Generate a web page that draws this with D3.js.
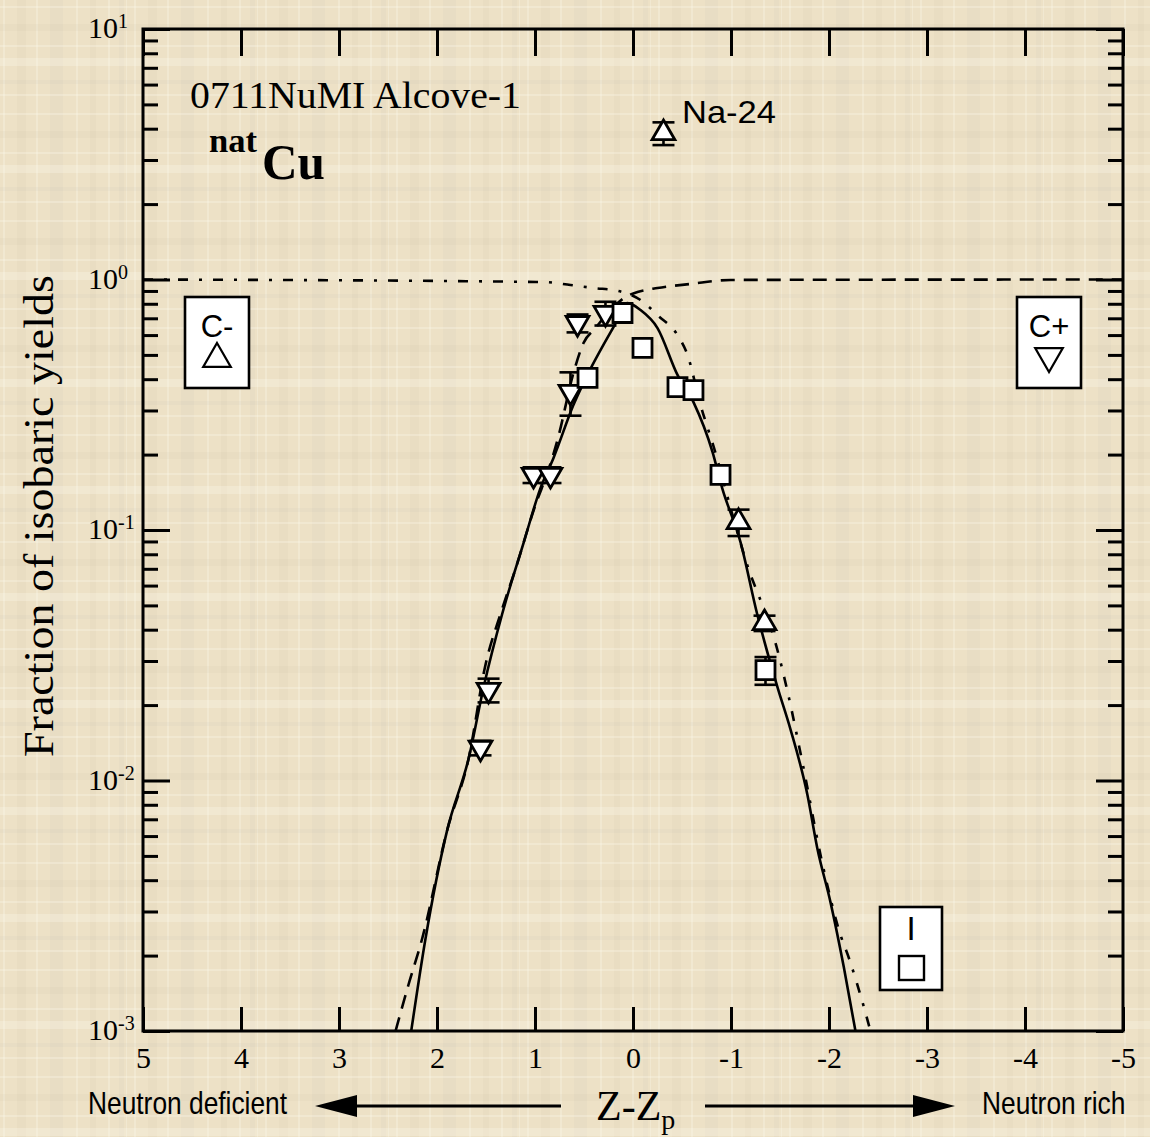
<!DOCTYPE html>
<html><head><meta charset="utf-8">
<script src="https://cdn.jsdelivr.net/npm/d3@7"></script>
<style>
html,body{margin:0;padding:0;background:#eee2c6;}
svg{display:block;}
</style></head><body>
<svg id="chart" width="1150" height="1137"></svg>
<script>
// ---------------- data ----------------
const zTicks = [5, 4, 3, 2, 1, 0, -1, -2, -3, -4, -5];
const decadeTicks = [1e-3, 1e-2, 1e-1, 1, 10];
const decadeExp = ["-3", "-2", "-1", "0", "1"];

// C+ (cumulative, inverted triangles)
const cPlusZ   = [0.566, 0.281, 0.638, 1.015, 0.842, 1.474, 1.556];
const cPlusY   = [0.67, 0.735, 0.356, 0.166, 0.166, 0.0230, 0.0135];
const cPlusErr = [0.055, 0.08, 0.07, 0.012, 0.012, 0.0025, 0.0009];

// I (independent, squares)
const indZ   = [0.107, -0.097, 0.464, -0.454, -0.617, -0.893, -1.352];
const indY   = [0.735, 0.533, 0.405, 0.372, 0.362, 0.166, 0.0276];
const indErr = [0, 0, 0, 0, 0, 0, 0.0035];

// C- (cumulative, triangles)
const cMinusZ   = [-0.311, -1.077, -1.342];
const cMinusY   = [3.84, 0.1076, 0.0425];
const cMinusErr = [0.4, 0.013, 0.003];

// solid curve (independent yield)
const solidZ = [2.263, 2.117, 1.896, 1.676, 1.522, 1.335, 1.114, 0.944, 0.811, 0.607, 0.413, 0.199, 0.056,
                -0.077, -0.250, -0.454, -0.617, -0.811, -0.910, -1.097, -1.267, -1.471, -1.607, -1.778, -1.880, -2.015, -2.151, -2.270];
const solidY = [0.001, 0.00234, 0.00634, 0.0123, 0.0238, 0.0462, 0.0895, 0.147, 0.194, 0.316, 0.456, 0.646, 0.805,
                0.755, 0.640, 0.416, 0.324, 0.205, 0.147, 0.0895, 0.0462, 0.0238, 0.0160, 0.00883, 0.00538, 0.00327, 0.00180, 0.001];

// dashed curve (cumulative from neutron-deficient side)
const dashZ = [2.423, 2.291, 2.151, 1.896, 1.676, 1.505, 1.352, 1.199, 0.995, 0.862, 0.770, 0.607, 0.505, 0.383, 0.230, 0.077,
               -0.046, -0.250, -0.587, -0.995, -5];
const dashY = [0.001, 0.00153, 0.00234, 0.00634, 0.0123, 0.0290, 0.0462, 0.0699, 0.126, 0.174, 0.229, 0.424, 0.558, 0.640, 0.755, 0.851,
               0.891, 0.925, 0.960, 0.996, 1.0];

// dash-dot curve (cumulative from neutron-rich side)
const dotZ = [5, 0.913, 0.638, 0.403, 0.148, -0.077, -0.260, -0.454, -0.556, -0.689, -0.842, -1.015, -1.199, -1.284, -1.454,
              -1.573, -1.727, -1.931, -2.117, -2.202, -2.355, -2.423];
const dotY = [1.0, 0.977, 0.951, 0.925, 0.900, 0.828, 0.715, 0.600, 0.500, 0.316, 0.203, 0.115, 0.0664, 0.0546, 0.0354,
              0.0230, 0.0119, 0.00469, 0.00242, 0.00196, 0.00125, 0.001];

// ---------------- chart ----------------
const SERIF = "'Liberation Serif','Times New Roman',Times,serif";
const SANS = "'Liberation Sans',Arial,Helvetica,sans-serif";

const svg = d3.select("#chart");
const L = 143, R = 1123, T = 29, B = 1031;
const x = d3.scaleLinear().domain([5, -5]).range([L, R]);
const y = d3.scaleLog().domain([1e-3, 10]).range([B, T]);

// background texture (decorative)
const defs = svg.append("defs");
const pat = defs.append("pattern").attr("id", "plaid").attr("patternUnits", "userSpaceOnUse")
  .attr("width", 131).attr("height", 107);
pat.append("rect").attr("width", 131).attr("height", 107).attr("fill", "#ede1c6");
const stripeCol = {l: "rgba(252,247,234,0.30)", d: "rgba(200,188,160,0.10)", g: "rgba(185,185,178,0.10)"};
[[3,2,"l"],[17,9,"d"],[36,2,"l"],[50,13,"g"],[76,2,"l"],[90,6,"d"],[108,2,"l"],[119,5,"g"],[126,1,"l"]].forEach(s =>
  pat.append("rect").attr("x", s[0]).attr("y", 0).attr("width", s[1]).attr("height", 107).attr("fill", stripeCol[s[2]]));
[[6,2,"l"],[24,7,"d"],[45,2,"l"],[58,8,"l"],[80,4,"g"],[94,2,"l"]].forEach(s =>
  pat.append("rect").attr("x", 0).attr("y", s[0]).attr("width", 131).attr("height", s[1]).attr("fill", stripeCol[s[2]]));
svg.append("rect").attr("width", 1150).attr("height", 1137).attr("fill", "url(#plaid)");

defs.append("clipPath").attr("id", "plotclip").append("rect")
  .attr("x", L).attr("y", T).attr("width", R - L).attr("height", B - T);

// ---- axes ----
const minorTicks = [];
decadeTicks.slice(0, 4).forEach(d => { for (let k = 2; k <= 9; k++) minorTicks.push(k * d); });

function styleAxis(g) {
  g.select(".domain").remove();
  g.selectAll(".tick line").attr("stroke", "#000").attr("stroke-width", 3);
}
// left (inward ticks)
svg.append("g").attr("transform", `translate(${L},0)`)
  .call(d3.axisRight(y).tickValues(decadeTicks).tickSize(27).tickFormat(""))
  .call(styleAxis);
svg.append("g").attr("transform", `translate(${L},0)`)
  .call(d3.axisRight(y).tickValues(minorTicks).tickSize(15).tickFormat(""))
  .call(styleAxis);
// right (inward ticks)
svg.append("g").attr("transform", `translate(${R},0)`)
  .call(d3.axisLeft(y).tickValues(decadeTicks).tickSize(27).tickFormat(""))
  .call(styleAxis);
svg.append("g").attr("transform", `translate(${R},0)`)
  .call(d3.axisLeft(y).tickValues(minorTicks).tickSize(15).tickFormat(""))
  .call(styleAxis);
// top (inward ticks)
svg.append("g").attr("transform", `translate(0,${T})`)
  .call(d3.axisBottom(x).tickValues(zTicks).tickSize(27).tickFormat(""))
  .call(styleAxis);
// bottom (inward ticks, labels below)
const xAx = svg.append("g").attr("transform", `translate(0,${B})`)
  .call(d3.axisBottom(x).tickValues(zTicks).tickSizeInner(-24).tickSizeOuter(0).tickPadding(16).tickFormat(d => String(d)))
  .call(styleAxis);
xAx.selectAll(".tick text").attr("font-family", SERIF).attr("font-size", 30).attr("fill", "#000");

// frame
svg.append("rect").attr("x", L).attr("y", T).attr("width", R - L).attr("height", B - T)
  .attr("fill", "none").attr("stroke", "#000").attr("stroke-width", 3);

// y tick labels 10^n
decadeTicks.forEach((d, i) => {
  const t = svg.append("text").attr("x", 88).attr("y", y(d) + 9)
    .attr("font-family", SERIF).attr("font-size", 30).attr("fill", "#000");
  t.append("tspan").text("10");
  t.append("tspan").attr("dy", -10).attr("font-size", 20).text(decadeExp[i]);
});

// y title
svg.append("text").attr("transform", "translate(53,516) rotate(-90)")
  .attr("text-anchor", "middle").attr("font-family", SERIF).attr("font-size", 43)
  .attr("textLength", 482).attr("lengthAdjust", "spacingAndGlyphs")
  .text("Fraction of isobaric yields");

// ---- curves ----
const line = d3.line().x(d => x(d[0])).y(d => y(d[1])).curve(d3.curveMonotoneX);
const curves = svg.append("g").attr("clip-path", "url(#plotclip)");
curves.append("path").datum(dotZ.map((z, i) => [z, dotY[i]])).attr("d", line)
  .attr("fill", "none").attr("stroke", "#000").attr("stroke-width", 2.6).attr("stroke-dasharray", "10,11,3,11");
curves.append("path").datum(dashZ.map((z, i) => [z, dashY[i]])).attr("d", line)
  .attr("fill", "none").attr("stroke", "#000").attr("stroke-width", 2.6).attr("stroke-dasharray", "14,9");
curves.append("path").datum(solidZ.map((z, i) => [z, solidY[i]])).attr("d", line)
  .attr("fill", "none").attr("stroke", "#000").attr("stroke-width", 2.6);

// ---- error bars ----
function errBars(zs, ys, es) {
  const g = svg.append("g").attr("stroke", "#000").attr("stroke-width", 2.6);
  zs.forEach((z, i) => {
    if (!es[i]) return;
    const cx = x(z), y1 = y(ys[i] - es[i]), y2 = y(ys[i] + es[i]);
    g.append("line").attr("x1", cx).attr("x2", cx).attr("y1", y1).attr("y2", y2);
    g.append("line").attr("x1", cx - 11).attr("x2", cx + 11).attr("y1", y1).attr("y2", y1);
    g.append("line").attr("x1", cx - 11).attr("x2", cx + 11).attr("y1", y2).attr("y2", y2);
  });
}
errBars(cPlusZ, cPlusY, cPlusErr);
errBars(indZ, indY, indErr);
errBars(cMinusZ, cMinusY, cMinusErr);

// ---- markers ----
const triPath = d3.symbol().type(d3.symbolTriangle).size(225)();
const sqPath = d3.symbol().type(d3.symbolSquare).size(361)();
const mk = svg.append("g").attr("fill", "#fff").attr("stroke", "#000").attr("stroke-width", 2.8);
mk.selectAll(".cplus").data(cPlusZ.map((z, i) => [z, cPlusY[i]])).join("path").attr("class", "cplus")
  .attr("d", triPath).attr("transform", d => `translate(${x(d[0])},${y(d[1])}) rotate(180)`);
mk.selectAll(".ind").data(indZ.map((z, i) => [z, indY[i]])).join("path").attr("class", "ind")
  .attr("d", sqPath).attr("transform", d => `translate(${x(d[0])},${y(d[1])})`);
mk.selectAll(".cminus").data(cMinusZ.map((z, i) => [z, cMinusY[i]])).join("path").attr("class", "cminus")
  .attr("d", triPath).attr("transform", d => `translate(${x(d[0])},${y(d[1])})`);

// ---- annotations ----
svg.append("text").attr("x", 190).attr("y", 108).attr("font-family", SERIF).attr("font-size", 37)
  .attr("textLength", 331).attr("lengthAdjust", "spacingAndGlyphs").text("0711NuMI Alcove-1");
svg.append("text").attr("x", 209).attr("y", 152).attr("font-family", SERIF).attr("font-weight", "bold")
  .attr("font-size", 33).attr("textLength", 48).attr("lengthAdjust", "spacingAndGlyphs").text("nat");
svg.append("text").attr("x", 262).attr("y", 179).attr("font-family", SERIF).attr("font-weight", "bold")
  .attr("font-size", 51).attr("textLength", 63).attr("lengthAdjust", "spacingAndGlyphs").text("Cu");
svg.append("text").attr("x", 682).attr("y", 123).attr("font-family", SANS).attr("font-size", 32)
  .attr("textLength", 94).attr("lengthAdjust", "spacingAndGlyphs").text("Na-24");

// legend boxes
function box(bx, by, bw, bh) {
  return svg.append("rect").attr("x", bx).attr("y", by).attr("width", bw).attr("height", bh)
    .attr("fill", "#fff").attr("stroke", "#000").attr("stroke-width", 2.6);
}
const legTri = d3.symbol().type(d3.symbolTriangle).size(330)();
box(185, 297, 64, 91);
svg.append("text").attr("x", 217).attr("y", 337).attr("text-anchor", "middle").attr("font-family", SANS)
  .attr("font-size", 31).text("C-");
svg.append("path").attr("d", legTri).attr("transform", "translate(217,359)")
  .attr("fill", "none").attr("stroke", "#000").attr("stroke-width", 2.2);
box(1017, 297, 64, 91);
svg.append("text").attr("x", 1049).attr("y", 337).attr("text-anchor", "middle").attr("font-family", SANS)
  .attr("font-size", 31).text("C+");
svg.append("path").attr("d", legTri).attr("transform", "translate(1049,356) rotate(180)")
  .attr("fill", "none").attr("stroke", "#000").attr("stroke-width", 2.2);
box(880, 907, 62, 83);
svg.append("text").attr("x", 911).attr("y", 940).attr("text-anchor", "middle").attr("font-family", SANS)
  .attr("font-size", 33).text("I");
svg.append("rect").attr("x", 899).attr("y", 956).attr("width", 25).attr("height", 24)
  .attr("fill", "none").attr("stroke", "#000").attr("stroke-width", 2.4);

// x axis title and arrows
const xt = svg.append("text").attr("x", 596).attr("y", 1120).attr("font-family", SERIF).attr("font-size", 42);
xt.append("tspan").text("Z-Z");
xt.append("tspan").attr("dy", 9).attr("font-size", 28).text("p");

svg.append("text").attr("transform", "translate(88,1114) scale(0.85,1)").attr("font-family", SANS)
  .attr("font-size", 31).text("Neutron deficient");
svg.append("text").attr("transform", "translate(982,1114) scale(0.85,1)").attr("font-family", SANS)
  .attr("font-size", 31).text("Neutron rich");

const ay = 1106;
svg.append("line").attr("x1", 350).attr("x2", 561).attr("y1", ay).attr("y2", ay).attr("stroke", "#000").attr("stroke-width", 3);
svg.append("path").attr("d", `M315,${ay} L357,${ay - 11} L357,${ay + 11} Z`).attr("fill", "#000");
svg.append("line").attr("x1", 705).attr("x2", 920).attr("y1", ay).attr("y2", ay).attr("stroke", "#000").attr("stroke-width", 3);
svg.append("path").attr("d", `M955,${ay} L913,${ay - 11} L913,${ay + 11} Z`).attr("fill", "#000");
</script>
</body></html>
